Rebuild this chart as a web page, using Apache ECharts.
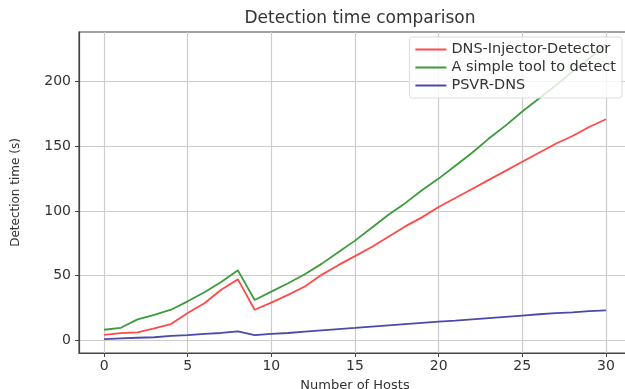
<!DOCTYPE html>
<html>
<head>
<meta charset="utf-8">
<script src="https://cdn.jsdelivr.net/npm/echarts@6/dist/echarts.min.js"></script>
<style>
html, body { margin: 0; padding: 0; background: #fff; }
#chart { width: 625px; height: 389px; }
</style>
</head>
<body>
<div id="chart"></div>
<script>
var hosts = [];
for (var i = 0; i <= 30; i++) hosts.push(i);

var injectorDetector = [4, 5.4, 6, 9, 12.4, 21, 28.5, 39, 47, 23.5, 29, 35, 41.5, 50.5, 58, 65, 72, 80, 88, 95, 103, 110, 117, 124, 131, 138, 145, 152, 158, 165, 171];
var simpleTool = [8, 9.5, 16, 19.6, 23.5, 30, 37, 45, 54, 31, 37.5, 44, 51, 59, 68, 77, 87, 97, 106, 116, 125, 135, 145, 156, 166, 177, 187, 197, 208, 218, 229];
var psvrDns = [0.8, 1.3, 1.8, 2.2, 3.2, 3.8, 4.8, 5.5, 6.8, 3.8, 4.8, 5.5, 6.5, 7.5, 8.5, 9.4, 10.4, 11.4, 12.4, 13.4, 14.3, 15, 16, 17, 18, 19, 20, 20.8, 21.5, 22.4, 23];

var seriesNames = ['DNS-Injector-Detector', 'A simple tool to detect', 'PSVR-DNS'];
var xTicks = [0, 5, 10, 15, 20, 25, 30];
var yTicks = [0, 50, 100, 150, 200];

function pairs(vals) {
  return hosts.map(function (h, k) { return [h, vals[k]]; });
}

var chart = echarts.init(document.getElementById('chart'));
var font = 'DejaVu Sans';
var colors = ['#ff4a4a', '#3d9a3d', '#4a4aaa'];

chart.setOption({
  animation: false,
  color: colors,
  title: {
    text: 'Detection time comparison',
    left: 355, top: 5,
    textAlign: 'center',
    textStyle: { fontFamily: font, fontSize: 17, fontWeight: 'normal', color: '#333' }
  },
  legend: {
    orient: 'vertical',
    right: 3, top: 37,
    icon: 'rect',
    itemWidth: 31, itemHeight: 2,
    itemGap: 3,
    padding: [5, 6, 5, 6],
    backgroundColor: 'rgba(255,255,255,0.8)',
    borderColor: '#ddd', borderWidth: 1, borderRadius: 3,
    textStyle: { fontFamily: font, fontSize: 14.5, color: '#333', lineHeight: 14 },
    data: seriesNames
  },
  grid: { left: 79, top: 32, right: -6, bottom: 36, outerBoundsMode: 'none', show: true, borderColor: '#444', borderWidth: 1.2 },
  xAxis: {
    type: 'value', min: -1.5, max: 31.5,
    name: 'Number of Hosts', nameLocation: 'middle', nameGap: 26,
    nameTextStyle: { fontFamily: font, fontSize: 13, color: '#333' },
    axisLine: { onZero: false, lineStyle: { color: '#444', width: 1.2 } },
    axisTick: { show: true, length: 4, customValues: xTicks, lineStyle: { color: '#444' } },
    axisLabel: { customValues: xTicks, fontFamily: font, fontSize: 14, color: '#333', margin: 6 },
    splitLine: { show: true, lineStyle: { color: '#ccc', width: 1.2 } }
  },
  yAxis: {
    type: 'value', min: -10, max: 238.5,
    name: 'Detection time (s)', nameLocation: 'middle', nameGap: 57,
    nameTextStyle: { fontFamily: font, fontSize: 12, color: '#333' },
    axisLine: { show: true, onZero: false, lineStyle: { color: '#444', width: 1.2 } },
    axisTick: { show: true, length: 4, customValues: yTicks, lineStyle: { color: '#444' } },
    axisLabel: { customValues: yTicks, fontFamily: font, fontSize: 14, color: '#333', margin: 8 },
    splitLine: { show: true, lineStyle: { color: '#ccc', width: 1.2 } }
  },
  series: [
    { name: seriesNames[0], type: 'line', data: pairs(injectorDetector), showSymbol: false, lineStyle: { width: 1.8 } },
    { name: seriesNames[1], type: 'line', data: pairs(simpleTool), showSymbol: false, lineStyle: { width: 1.8 } },
    { name: seriesNames[2], type: 'line', data: pairs(psvrDns), showSymbol: false, lineStyle: { width: 1.8 } }
  ]
});
</script>
</body>
</html>
